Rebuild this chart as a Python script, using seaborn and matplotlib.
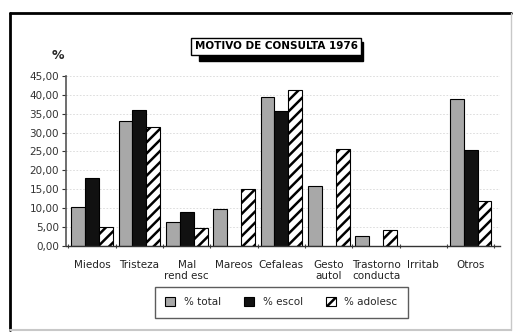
import matplotlib
matplotlib.use("Agg")
import matplotlib.pyplot as plt
from matplotlib.patches import Patch, Rectangle
from matplotlib.lines import Line2D
from matplotlib.ticker import FuncFormatter
import seaborn as sns
import pandas as pd

categories = ["Miedos", "Tristeza", "Mal\nrend esc", "Mareos", "Cefaleas",
              "Gesto\nautol", "Trastorno\nconducta", "Irritab", "Otros"]
series = ["% total", "% escol", "% adolesc"]
pct_total = [10.2, 33.2, 6.4, 9.7, 39.3, 16.0, 2.6, 0.0, 38.9]
pct_escol = [18.1, 35.9, 8.9, 0.0, 35.6, 0.0, 0.0, 0.0, 25.5]
pct_adolesc = [5.1, 31.4, 4.7, 15.2, 41.3, 25.6, 4.3, 0.0, 12.0]
yticks = [0, 5, 10, 15, 20, 25, 30, 35, 40, 45]

rows = []
for name, vals in zip(series, [pct_total, pct_escol, pct_adolesc]):
    for cat, v in zip(categories, vals):
        rows.append({"motivo": cat, "serie": name, "valor": v})
df = pd.DataFrame(rows)

sns.set_style("white")
plt.rcParams["font.family"] = ["DejaVu Sans"]
plt.rcParams["hatch.linewidth"] = 1.8

fig = plt.figure(figsize=(5.16, 3.36), dpi=100)
ax = fig.add_axes([0.128, 0.268, 0.841, 0.506])

fills = {"% total": "#a8a8a8", "% escol": "#111111", "% adolesc": "white"}
hatches = {"% total": "", "% escol": "", "% adolesc": "///"}

sns.barplot(data=df, x="motivo", y="valor", hue="serie", order=categories,
            hue_order=series, palette=fills, width=0.88, saturation=1,
            edgecolor="black", linewidth=0.8, legend=False, ax=ax)

for cont, name in zip(ax.containers, series):
    for bar in cont:
        bar.set_hatch(hatches[name])
        if bar.get_height() == 0:
            bar.set_visible(False)

ax.set_xlim(-0.55, 8.62)
ax.set_ylim(0, 45)
ax.set_yticks(yticks)
ax.yaxis.set_major_formatter(FuncFormatter(lambda v, p: f"{v:.2f}".replace(".", ",")))
for y in yticks[1:]:
    ax.axhline(y, color="#d8d8d8", lw=0.6, ls=(0, (2, 2)), zorder=0)

ax.set_xlabel("")
ax.set_ylabel("")
ax.tick_params(axis="y", which="both", left=True, length=3, width=0.8,
               labelsize=7.5, pad=2, colors="#333333")
ax.tick_params(axis="x", length=0, labelsize=7.5, pad=10, colors="#222222")
ax.set_xticks(range(len(categories)))
ax.set_xticks([i + 0.5 for i in range(-1, len(categories))], minor=True)
ax.tick_params(axis="x", which="minor", bottom=True, length=3, width=0.8,
               direction="inout", color="#444444")
for s in ["top", "right"]:
    ax.spines[s].set_visible(False)
ax.spines["left"].set_color("#555555")
ax.spines["bottom"].set_color("#333333")
ax.spines["left"].set_linewidth(1.2)
ax.spines["bottom"].set_linewidth(1.0)

# Title with drop shadow box
shadow = Rectangle((0.385, 0.818), 0.318, 0.058, transform=fig.transFigure,
                   fc="black", ec="black", zorder=1)
fig.patches.append(shadow)
fig.text(0.535, 0.862, "MOTIVO DE CONSULTA 1976", ha="center", va="center",
         fontsize=7.5, fontweight="bold", color="black", zorder=3,
         bbox=dict(boxstyle="square,pad=0.35", fc="white", ec="black", lw=1))

fig.text(0.112, 0.835, "%", ha="center", va="center", fontsize=9,
         fontweight="bold")

# Legend
handles = [Patch(fc=fills[s], ec="black", hatch=hatches[s], lw=0.8) for s in series]
leg = fig.legend(handles, series, loc="center", bbox_to_anchor=(0.545, 0.101),
                 ncol=3, frameon=True, fontsize=7.5, handlelength=1.0,
                 handleheight=1.0, columnspacing=2.2, borderpad=1.0,
                 handletextpad=0.8, fancybox=False)
leg.get_frame().set_edgecolor("#333333")
leg.get_frame().set_linewidth(1.0)

# Outer frame
fig.add_artist(Line2D([0.019, 0.99], [0.961, 0.961], color="black", lw=2,
                      transform=fig.transFigure))
fig.add_artist(Line2D([0.019, 0.019], [0.018, 0.961], color="black", lw=2,
                      transform=fig.transFigure))
fig.add_artist(Line2D([0.99, 0.99], [0.018, 0.961], color="#c8c8c8", lw=1,
                      transform=fig.transFigure))
fig.add_artist(Line2D([0.019, 0.99], [0.018, 0.018], color="#c8c8c8", lw=1.5,
                      transform=fig.transFigure))

fig.savefig("out.png", dpi=100)
